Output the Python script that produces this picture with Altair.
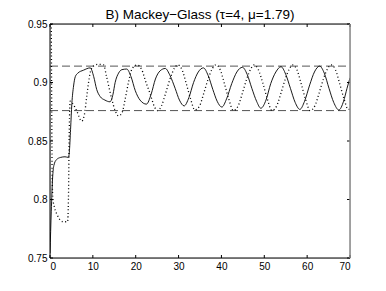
import altair as alt
import pandas as pd

# ---- data ----
title_text = "B) Mackey\u2212Glass (\u03c4=4, \u03bc=1.79)"

solid_t = [0.0, 0.3, 0.6, 0.9, 1.5, 2.5, 3.5, 4.3, 4.5, 4.8, 5.1, 5.5, 5.9, 6.5, 7.8, 9.4,
           10.2, 10.9, 11.7, 12.8, 14.0, 14.7, 15.2, 16.0, 16.8, 17.9, 18.9, 19.9, 21.0,
           22.5, 23.6, 24.6, 25.7, 26.9, 28.0, 29.2, 30.2, 31.3, 32.4, 33.5, 34.6, 35.8,
           36.9, 38.0, 39.0, 40.1, 41.2, 42.4, 43.6, 44.9, 46.0, 47.1, 48.2, 49.2, 50.4,
           51.5, 52.7, 53.9, 55.0, 56.1, 57.2, 58.3, 59.4, 60.6, 61.7, 62.9, 64.0, 65.1,
           66.2, 67.4, 68.5, 69.3, 70.0]
solid_v = [0.754, 0.790, 0.818, 0.829, 0.834, 0.836, 0.8365, 0.836, 0.840, 0.860, 0.882,
           0.897, 0.905, 0.908, 0.9105, 0.9125, 0.905, 0.894, 0.888, 0.885, 0.8835, 0.890,
           0.900, 0.908, 0.911, 0.9115, 0.905, 0.893, 0.885, 0.8815, 0.890, 0.903, 0.910,
           0.912, 0.906, 0.895, 0.885, 0.880, 0.887, 0.900, 0.909, 0.9125, 0.906, 0.894,
           0.884, 0.879, 0.886, 0.899, 0.909, 0.913, 0.907, 0.895, 0.884, 0.878, 0.885,
           0.899, 0.909, 0.9135, 0.907, 0.895, 0.883, 0.877, 0.884, 0.898, 0.909, 0.914,
           0.908, 0.895, 0.883, 0.8765, 0.884, 0.895, 0.904]

dotted_t = [0.3, 0.4, 0.5, 0.7, 1.0, 1.8, 2.5, 3.0, 4.1, 4.3, 4.5, 4.7, 5.3, 6.2, 7.4, 8.0,
            8.6, 9.3, 10.1, 11.3, 12.5, 13.2, 14.4, 15.2, 16.0, 16.8, 17.5, 18.3, 19.2,
            20.3, 21.4, 22.4, 23.4, 24.4, 25.1, 26.0, 27.0, 28.0, 29.0, 29.8, 30.8, 31.8,
            32.8, 33.8, 34.9, 35.9, 36.9, 37.9, 38.7, 39.7, 40.7, 41.7, 42.8, 43.9, 44.9,
            45.9, 46.9, 47.6, 48.6, 49.7, 50.7, 51.8, 52.9, 53.9, 54.9, 55.9, 56.6, 57.6,
            58.6, 59.6, 60.7, 61.8, 62.8, 63.8, 64.8, 65.6, 66.6, 67.6, 68.6, 69.6, 70.0]
dotted_v = [0.95, 0.88, 0.82, 0.800, 0.794, 0.786, 0.782, 0.781, 0.781, 0.800, 0.860,
            0.884, 0.882, 0.876, 0.867, 0.872, 0.889, 0.907, 0.914, 0.9155, 0.915, 0.905,
            0.886, 0.876, 0.8715, 0.874, 0.885, 0.900, 0.912, 0.915, 0.911, 0.900, 0.890,
            0.879, 0.876, 0.880, 0.891, 0.903, 0.912, 0.915, 0.911, 0.899, 0.886, 0.8765,
            0.880, 0.891, 0.903, 0.912, 0.915, 0.911, 0.899, 0.886, 0.876, 0.880, 0.891,
            0.903, 0.912, 0.915, 0.911, 0.899, 0.886, 0.876, 0.880, 0.891, 0.903, 0.912,
            0.915, 0.911, 0.899, 0.886, 0.876, 0.880, 0.891, 0.903, 0.912, 0.915, 0.911,
            0.899, 0.886, 0.877, 0.877]

bounds = [0.914, 0.876]
x_ticks = [0, 10, 20, 30, 40, 50, 60, 70]
y_ticks = [0.75, 0.8, 0.85, 0.9, 0.95]

W, H = 300, 234
TL = 3
FONT = "Liberation Sans"

xs = alt.Scale(domain=[0, 70], nice=False, zero=False)
ys = alt.Scale(domain=[0.75, 0.95], nice=False, zero=False)

solid_df = pd.DataFrame({"t": solid_t, "v": solid_v})
dotted_df = pd.DataFrame({"t": dotted_t, "v": dotted_v})
bounds_df = pd.DataFrame({"b": bounds})
xt_df = pd.DataFrame({"x": x_ticks})
yt_df = pd.DataFrame({"y": y_ticks})
title_df = pd.DataFrame({"label": [title_text]})

xaxis = alt.Axis(values=x_ticks, ticks=False, domain=False, grid=False, labelFont=FONT,
                 labelFontSize=10, labelColor="black", labelPadding=3, title=None)
yaxis = alt.Axis(values=y_ticks, ticks=False, domain=False, grid=False, labelFont=FONT,
                 labelFontSize=10, labelColor="black", labelPadding=3, format="~g",
                 title=None)

dashed = alt.Chart(bounds_df).mark_rule(color="#555555", strokeWidth=1,
                                        strokeDash=[8, 4]).encode(
    y=alt.Y("b:Q", scale=ys, axis=yaxis),
    x=alt.value(0), x2=alt.value(W))

solid = alt.Chart(solid_df).mark_line(color="black", strokeWidth=0.9,
                                      interpolate="monotone", clip=True).encode(
    x=alt.X("t:Q", scale=xs, axis=xaxis),
    y=alt.Y("v:Q", scale=ys, axis=yaxis))

dotted = alt.Chart(dotted_df).mark_line(color="black", strokeWidth=1.3,
                                        strokeDash=[1, 2.5], interpolate="monotone",
                                        clip=True).encode(
    x=alt.X("t:Q", scale=xs, axis=xaxis),
    y=alt.Y("v:Q", scale=ys, axis=yaxis))

tick_bottom = alt.Chart(xt_df).mark_rule(color="black", strokeWidth=1).encode(
    x=alt.X("x:Q", scale=xs, axis=xaxis), y=alt.value(H), y2=alt.value(H - TL))
tick_top = alt.Chart(xt_df).mark_rule(color="black", strokeWidth=1).encode(
    x=alt.X("x:Q", scale=xs, axis=xaxis), y=alt.value(0), y2=alt.value(TL))
tick_left = alt.Chart(yt_df).mark_rule(color="black", strokeWidth=1).encode(
    y=alt.Y("y:Q", scale=ys, axis=yaxis), x=alt.value(0), x2=alt.value(TL))
tick_right = alt.Chart(yt_df).mark_rule(color="black", strokeWidth=1).encode(
    y=alt.Y("y:Q", scale=ys, axis=yaxis), x=alt.value(W), x2=alt.value(W - TL))

frame_df = pd.DataFrame({"k": [0]})
frame_left = alt.Chart(frame_df).mark_rule(color="black", strokeWidth=1).encode(
    x=alt.value(0), y=alt.value(0), y2=alt.value(H))
frame_bottom = alt.Chart(frame_df).mark_rule(color="black", strokeWidth=1).encode(
    x=alt.value(0), x2=alt.value(W), y=alt.value(H))
frame_top = alt.Chart(frame_df).mark_rule(color="black", strokeWidth=1).encode(
    x=alt.value(0), x2=alt.value(W), y=alt.value(0))
frame_right = alt.Chart(frame_df).mark_rule(color="#888888", strokeWidth=1.5).encode(
    x=alt.value(W), y=alt.value(0), y2=alt.value(H))

title = alt.Chart(title_df).mark_text(font=FONT, fontSize=13.5, color="black",
                                      align="center", baseline="alphabetic").encode(
    text="label:N", x=alt.value(W / 2), y=alt.value(-5))

chart = alt.layer(
    dashed, solid, dotted, tick_bottom, tick_top, tick_left, tick_right,
    frame_left, frame_bottom, frame_top, frame_right, title
).properties(
    width=W, height=H,
    autosize=alt.AutoSizeParams(type="none"),
    padding={"left": 42, "top": 16, "right": 28, "bottom": 25},
).configure_view(stroke=None).configure(background="white")

chart.save("out.html", embed_options={"renderer": "svg", "actions": False})
